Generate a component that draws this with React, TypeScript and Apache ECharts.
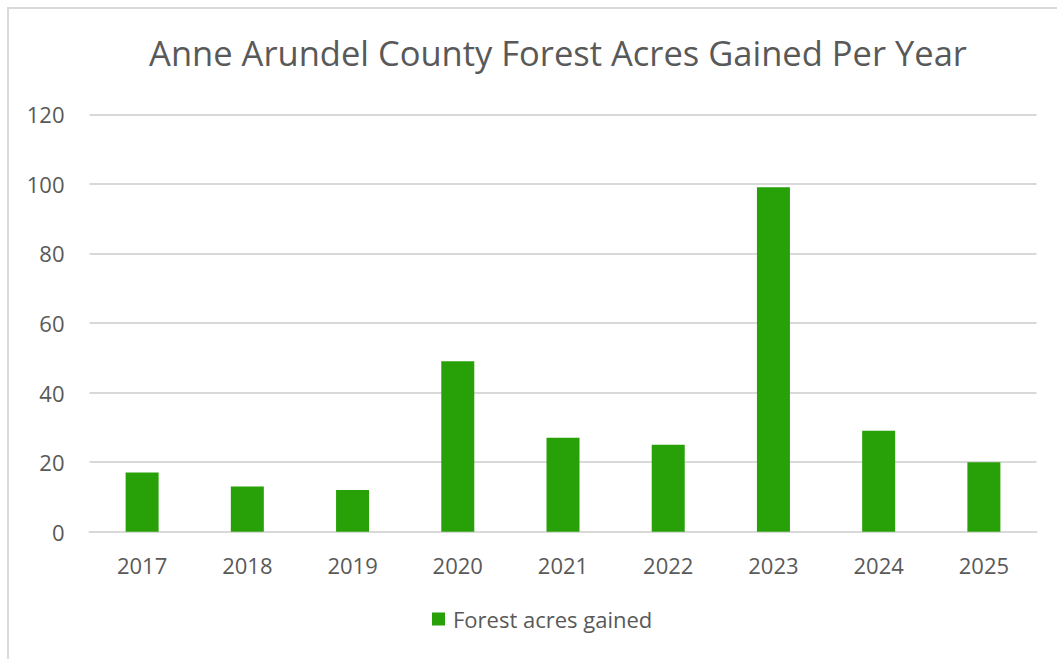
import React, { useEffect, useRef } from "react";
import * as echarts from "echarts";

const title = "Anne Arundel County Forest Acres Gained Per Year";
const seriesName = "Forest acres gained";
const years = ["2017", "2018", "2019", "2020", "2021", "2022", "2023", "2024", "2025"];
const acres = [17, 13, 12, 49, 27, 25, 99, 29, 20];

export default function App() {
  const ref = useRef<HTMLDivElement>(null);
  useEffect(() => {
    if (!ref.current) return;
    const chart = echarts.init(ref.current, null, { renderer: "svg" });
    const font = "'Open Sans', sans-serif";
    chart.setOption({
      animation: false,
      backgroundColor: "#ffffff",
      textStyle: { fontFamily: font },
      title: {
        text: title,
        left: 544,
        top: 21,
        textAlign: "center",
        textStyle: { fontFamily: font, fontSize: 34.5, fontWeight: "normal", color: "#595959" },
      },
      legend: {
        data: [seriesName],
        bottom: 30,
        left: 418,
        padding: 5,
        icon: "rect",
        itemWidth: 13,
        itemHeight: 13,
        itemGap: 6,
        textStyle: { fontFamily: font, fontSize: 22, color: "#595959", padding: [0, 0, 0, 3] },
      },
      grid: { left: 80.5, right: 28.5, top: 105.3, bottom: 133.3, containLabel: false },
      xAxis: {
        type: "category",
        data: years,
        axisLine: { show: true, lineStyle: { color: "#d9d9d9", width: 2 } },
        axisTick: { show: false },
        axisLabel: { fontFamily: font, fontSize: 22, color: "#595959", margin: 22 },
      },
      yAxis: {
        type: "value",
        min: 0,
        max: 120,
        interval: 20,
        axisLine: { show: false },
        axisTick: { show: false },
        axisLabel: { fontFamily: font, fontSize: 22, color: "#595959", margin: 25 },
        splitLine: { lineStyle: { color: "#d9d9d9", width: 2 } },
      },
      series: [
        {
          name: seriesName,
          type: "bar",
          data: acres,
          barWidth: 33,
          itemStyle: { color: "#28a108" },
        },
      ],
    });
    return () => chart.dispose();
  }, []);
  return (
    <div
      style={{
        position: "absolute",
        left: 7,
        top: 7,
        width: 1060,
        height: 660,
        border: "2px solid #d9d9d9",
        boxSizing: "border-box",
        background: "#fff",
      }}
    >
      <div ref={ref} style={{ width: 1056, height: 656 }} />
    </div>
  );
}
